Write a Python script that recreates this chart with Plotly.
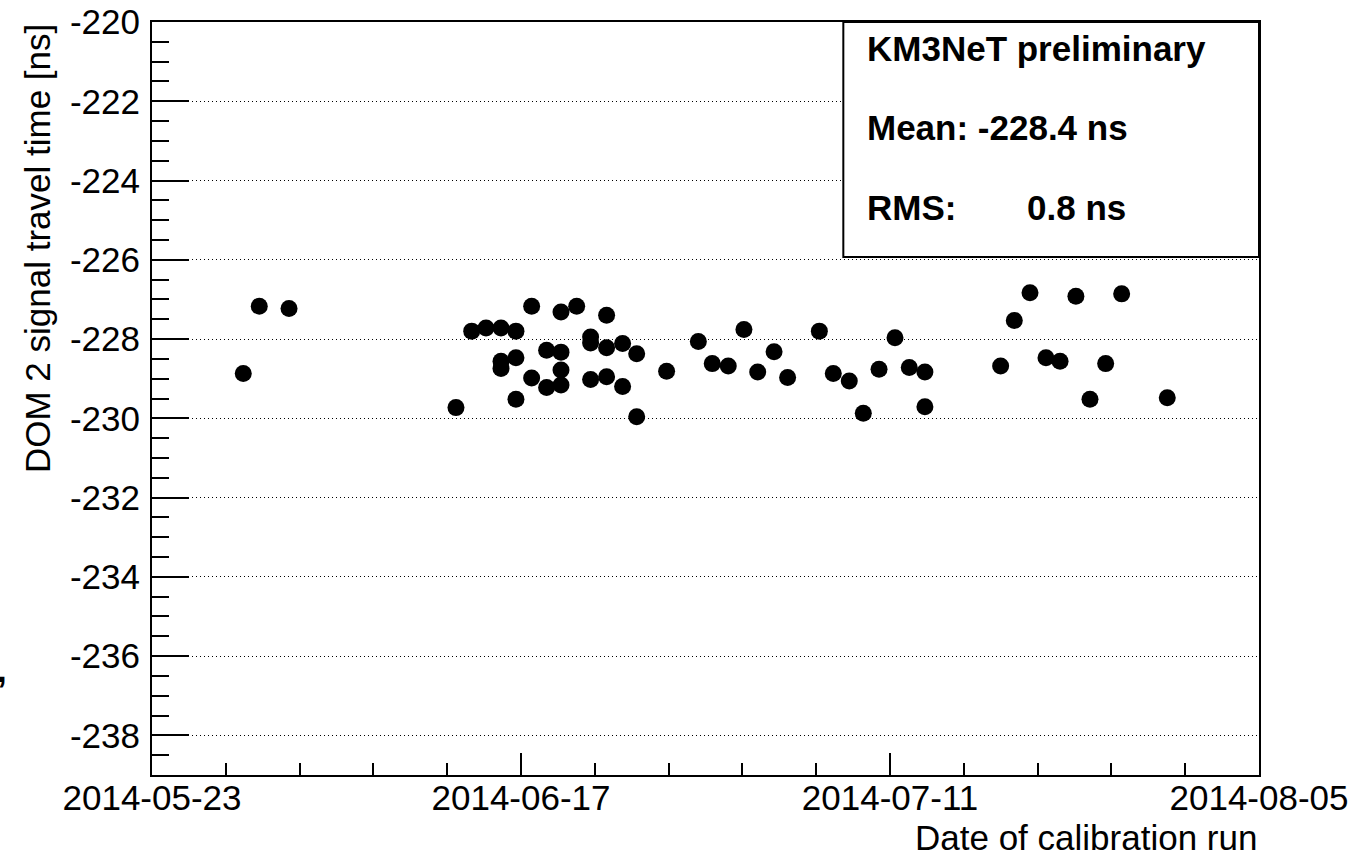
import pandas as pd
import plotly.graph_objects as go

# ---- data ----
run_dates = [
    "2014-05-29 14:25", "2014-05-30 16:05", "2014-06-01 15:50", "2014-06-12 19:40",
    "2014-06-13 20:55", "2014-06-14 19:55", "2014-06-15 19:55", "2014-06-15 19:55",
    "2014-06-15 19:55", "2014-06-16 19:55", "2014-06-16 19:55", "2014-06-16 19:55",
    "2014-06-17 21:05", "2014-06-17 21:05", "2014-06-18 21:05", "2014-06-18 21:05",
    "2014-06-19 20:10", "2014-06-19 20:10", "2014-06-19 20:10", "2014-06-19 20:10",
    "2014-06-20 21:20", "2014-06-21 19:40", "2014-06-21 19:40", "2014-06-21 19:40",
    "2014-06-22 21:20", "2014-06-22 21:20", "2014-06-22 21:20", "2014-06-23 23:00",
    "2014-06-23 23:00", "2014-06-24 21:35", "2014-06-24 21:35", "2014-06-26 21:35",
    "2014-06-29 00:30", "2014-06-29 22:50", "2014-07-01 00:30", "2014-07-02 01:40",
    "2014-07-02 23:45", "2014-07-04 02:00", "2014-07-04 23:45", "2014-07-07 02:40",
    "2014-07-08 01:00", "2014-07-09 02:40", "2014-07-10 01:10", "2014-07-11 02:25",
    "2014-07-12 04:00", "2014-07-13 02:55", "2014-07-14 04:00", "2014-07-14 04:00",
    "2014-07-19 05:30", "2014-07-20 03:25", "2014-07-21 04:35", "2014-07-22 06:15",
    "2014-07-23 04:50", "2014-07-24 06:15", "2014-07-25 04:50", "2014-07-26 06:00",
    "2014-07-27 07:40", "2014-07-30 08:50",
]
travel_times = [
    -228.87, -227.17, -227.23, -229.73,
    -227.80, -227.72, -227.72, -228.56,
    -228.74, -227.80, -228.47, -229.52,
    -227.17, -228.98, -228.28, -229.22,
    -227.32, -228.33, -228.78, -229.16,
    -227.17, -227.95, -228.10, -229.02,
    -227.40, -228.22, -228.95, -228.11,
    -229.20, -228.37, -229.96, -228.81,
    -228.06, -228.62, -228.68, -227.76,
    -228.83, -228.32, -228.97, -227.80,
    -228.87, -229.06, -229.87, -228.76,
    -227.97, -228.72, -228.83, -229.71,
    -228.68, -227.53, -226.83, -228.47,
    -228.56, -226.92, -229.52, -228.62,
    -226.86, -229.48,
]
x_tick_labels = ["2014-05-23", "2014-06-17", "2014-07-11", "2014-08-05"]
y_tick_values = [-238, -236, -234, -232, -230, -228, -226, -224, -222, -220]
y_tick_labels = ["-238", "-236", "-234", "-232", "-230", "-228", "-226", "-224", "-222", "-220"]
stats_title = "KM3NeT preliminary"
stats_mean = "Mean: -228.4 ns"
stats_rms_label = "RMS:"
stats_rms_value = "0.8 ns"

# ---- axis geometry ----
x_start = pd.Timestamp("2014-05-23 12:00")
x_end = pd.Timestamp("2014-08-05 12:00")
all_ticks = pd.date_range(x_start, x_end, periods=16)
major_ticks = [all_ticks[i] for i in range(0, 16, 5)]
minor_ticks = [all_ticks[i] for i in range(16) if i % 5 != 0]

FONT = "Liberation Sans, Arial, Helvetica, sans-serif"
FS = 35

fig = go.Figure()
fig.add_trace(go.Scatter(
    x=pd.to_datetime(run_dates), y=travel_times, mode="markers",
    marker=dict(color="black", size=17, line=dict(width=0)),
    showlegend=False,
))

fig.update_layout(
    width=1352, height=857,
    margin=dict(l=152, r=93, t=22, b=82, autoexpand=False),
    paper_bgcolor="white", plot_bgcolor="white",
    font=dict(family=FONT, size=FS, color="black"),
)

fig.update_xaxes(
    type="date", automargin=False,
    range=[x_start, x_end],
    tickmode="array", tickvals=major_ticks, ticktext=x_tick_labels,
    ticks="inside", ticklen=22, tickwidth=1.5, tickcolor="black",
    minor=dict(tickmode="array", tickvals=minor_ticks, ticks="inside",
               ticklen=12, tickwidth=1.5, tickcolor="black", showgrid=False),
    showgrid=False, zeroline=False,
    showline=True, linecolor="black", linewidth=2, mirror=True,
    tickfont=dict(family=FONT, size=FS, color="black"),
    ticklabelstandoff=-9,
)
fig.update_yaxes(
    automargin=False,
    range=[-239, -220],
    tickmode="array", tickvals=y_tick_values, ticktext=y_tick_labels,
    ticks="inside", ticklen=37, tickwidth=1.5, tickcolor="black",
    minor=dict(dtick=0.5, tick0=-220, ticks="inside", ticklen=17,
               tickwidth=1.5, tickcolor="black", showgrid=False),
    showgrid=True, gridcolor="black", gridwidth=1, griddash="1px,3px",
    zeroline=False,
    showline=True, linecolor="black", linewidth=2, mirror=True,
    tickfont=dict(family=FONT, size=FS, color="black"),
    ticklabelstandoff=3,
)

# statistics box
fig.add_shape(type="rect", xref="paper", yref="paper",
              x0=0.6245, x1=1.0, y0=0.688, y1=1.0,
              line=dict(color="black", width=2), fillcolor="white", layer="above")

def ann(text, x, y, xanchor="left", yanchor="middle", bold=False, size=FS, angle=0):
    fig.add_annotation(
        text=f"<b>{text}</b>" if bold else text,
        xref="paper", yref="paper", x=x, y=y,
        xanchor=xanchor, yanchor=yanchor, showarrow=False, textangle=angle,
        font=dict(family=FONT, size=size, color="black"),
    )

ann(stats_title, 0.644, 0.965, bold=True)
ann(stats_mean, 0.644, 0.860, bold=True)
ann(stats_rms_label, 0.644, 0.754, bold=True)
ann(stats_rms_value, 0.7886, 0.754, bold=True)

# axis titles
ann("DOM 2 signal travel time [ns]", -0.1035, 0.699, xanchor="center", angle=-90)
ann("Date of calibration run", 1.0, -0.0836, xanchor="right")
# stray mark at the left edge of the reference
ann(",", -0.1295, 0.14, xanchor="right", bold=True)

fig.write_html("out.html")
